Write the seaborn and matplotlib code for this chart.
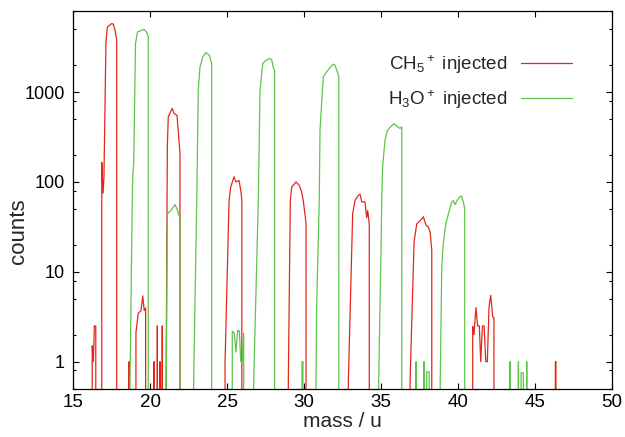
import numpy as np
import pandas as pd
import matplotlib
matplotlib.use("Agg")
import matplotlib.pyplot as plt
from matplotlib.ticker import FixedLocator, FixedFormatter, LogLocator, NullFormatter
import seaborn as sns

# CH5+ injected spectrum: mass (u) and counts
ch5_mass = [15.0, 16.22, 16.23, 16.30, 16.37, 16.46, 16.52, 16.62, 16.85, 16.93, 16.99,
            17.12, 17.21, 17.50, 17.60, 17.71, 17.82, 17.86,
            18.60, 18.62, 18.66,
            19.05, 19.07, 19.22, 19.40, 19.51, 19.61, 19.70, 19.76,
            20.22, 20.24, 20.27, 20.44, 20.46, 20.49, 20.61, 20.63, 20.66, 20.76, 20.78, 20.82,
            21.02, 21.03, 21.11, 21.17, 21.43, 21.54, 21.74, 21.93, 21.96,
            24.82, 24.86, 25.12, 25.23, 25.44, 25.57, 25.77, 25.90, 25.95, 26.06,
            28.95, 28.97, 29.10, 29.19, 29.47, 29.68, 29.84, 29.94, 30.12, 30.17,
            32.85, 32.87, 33.15, 33.30, 33.52, 33.63, 33.74, 33.95, 34.06, 34.13, 34.23, 34.30,
            36.86, 36.88, 37.14, 37.31, 37.53, 37.74, 37.92, 38.07, 38.18, 38.29, 38.33,
            40.82, 40.95, 41.03, 41.16, 41.27, 41.38, 41.47, 41.58, 41.69, 41.80, 41.90,
            42.01, 42.12, 42.25, 42.33, 42.36,
            46.30, 46.32, 46.36, 46.38, 50.0]
ch5_counts = [0, 0, 1.5, 1.0, 2.5, 2.5, 0, 0, 165, 75, 110,
              3500, 5300, 5800, 5700, 4900, 3800, 0,
              0, 1.0, 0,
              0, 2.1, 3.45, 3.7, 5.4, 3.7, 3.95, 0,
              0, 1.0, 0, 0, 2.5, 0, 0, 1.0, 0, 0, 2.5, 0,
              0, 0.6, 245, 530, 660, 580, 550, 210, 0,
              0, 1.0, 62, 88, 114, 100, 104, 77, 62, 0,
              0, 0.6, 62, 88, 100, 92, 77, 62, 35, 0,
              0, 0.6, 44, 62, 71, 73, 60, 60, 40, 48, 34, 0,
              0, 0.6, 21.5, 34, 37, 41, 33, 31.5, 28, 17.4, 0,
              0, 2.47, 2.0, 4.0, 2.5, 2.5, 1.0, 2.5, 2.5, 1.0, 1.0,
              4.05, 5.47, 3.14, 3.1, 0,
              0, 1.0, 1.0, 0, 0]

# H3O+ injected spectrum: mass (u) and counts
h3o_mass = [15.0, 18.66, 18.68, 18.83, 18.86, 18.93, 19.04, 19.17, 19.59, 19.75, 19.87, 19.94,
            21.02, 21.04, 21.11, 21.33, 21.61, 21.76, 21.93, 21.96,
            22.80, 22.82, 23.02, 23.12, 23.23, 23.41, 23.62, 23.84, 23.99, 24.06,
            25.07, 25.33, 25.46, 25.57, 25.68, 25.79, 25.88, 25.98, 26.07, 26.10,
            26.70, 26.72, 27.02, 27.13, 27.31, 27.50, 27.78, 27.89, 28.00, 28.08, 28.20,
            29.84, 29.86, 29.92, 29.94,
            30.75, 30.77, 30.81, 30.98, 31.03, 31.24, 31.46, 31.70, 31.89, 32.00, 32.11, 32.25, 32.28,
            34.82, 34.84, 35.00, 35.04, 35.10, 35.25, 35.40, 35.57, 35.83, 36.00, 36.22, 36.34, 36.40,
            37.25, 37.27, 37.30, 37.77, 37.79, 37.82, 37.94, 37.96, 38.12, 38.14,
            38.82, 38.84, 38.94, 39.04, 39.20, 39.37, 39.59, 39.70, 39.80, 39.95, 40.10, 40.22, 40.34,
            40.43, 40.46,
            43.36, 43.38, 43.41, 43.90, 43.92, 43.95, 44.07, 44.09, 44.24, 44.26,
            44.44, 44.46, 44.49, 50.0]
h3o_counts = [0, 0, 0.5, 62, 113, 170, 3470, 4680, 4980, 4700, 4120, 0,
              0, 0.6, 44, 48, 56, 49, 39, 0,
              0, 0.6, 62, 1050, 1900, 2460, 2760, 2570, 2080, 0,
              0, 2.19, 2.07, 1.28, 2.23, 2.2, 1.0, 1.0, 2.07, 0,
              0, 0.6, 62, 1050, 2080, 2250, 2370, 2290, 1850, 1750, 0,
              0, 1.0, 1.0, 0,
              0, 0.6, 4.1, 62, 376, 1480, 1680, 1900, 2050, 2000, 1760, 1500, 0,
              0, 0.6, 21.5, 62, 150, 292, 370, 405, 446, 420, 395, 410, 0,
              0, 1.0, 0, 0, 1.0, 0, 0, 0.77, 0.77, 0,
              0, 0.6, 11.3, 20.8, 34, 44, 60, 62, 56, 63, 68, 70, 60,
              50, 0,
              0, 1.0, 0, 0, 1.0, 0, 0, 0.75, 0.75, 0,
              0, 1.0, 0, 0]

series_labels = ["CH$_5{}^+$ injected", "H$_3$O$^+$ injected"]
series_colors = ["#e3261b", "#5dc44a"]

xtick_values = [15, 20, 25, 30, 35, 40, 45, 50]
ytick_values = [1, 10, 100, 1000]
ytick_labels = ["1", "10", "100", "1000"]

sns.set_style("ticks")
plt.rcParams["font.family"] = ["Liberation Sans", "DejaVu Sans"]
plt.rcParams["mathtext.fontset"] = "custom"
plt.rcParams["mathtext.rm"] = "Liberation Sans"
plt.rcParams["mathtext.it"] = "Liberation Sans:italic"

fig = plt.figure(figsize=(6.25, 4.37), dpi=100)
ax = fig.add_axes([73.3 / 625, 1 - 388.7 / 437, (612 - 73.3) / 625, (388.7 - 11) / 437])

frames = [
    pd.DataFrame({"mass": ch5_mass, "counts": ch5_counts, "series": series_labels[0]}),
    pd.DataFrame({"mass": h3o_mass, "counts": h3o_counts, "series": series_labels[1]}),
]
for df, col in zip(frames, series_colors):
    sns.lineplot(data=df, x="mass", y="counts", ax=ax, color=col, lw=0.9,
                 estimator=None, sort=False, label=df["series"].iloc[0])

ax.set_yscale("log", nonpositive="clip")
ax.set_xlim(15, 50)
ax.set_ylim(0.5, 8000)

ax.xaxis.set_major_locator(FixedLocator(xtick_values))
ax.yaxis.set_major_locator(FixedLocator(ytick_values))
ax.yaxis.set_major_formatter(FixedFormatter(ytick_labels))
ax.yaxis.set_minor_locator(LogLocator(base=10, subs=(2.0, 5.0, 8.0)))
ax.yaxis.set_minor_formatter(NullFormatter())

ax.tick_params(which="both", direction="in", top=True, right=True, width=0.8,
               colors="black")
ax.tick_params(which="major", length=4.5)
ax.tick_params(which="minor", length=2.5)
ax.tick_params(axis="y", which="major", pad=6, labelsize=13)
ax.tick_params(axis="x", which="major", pad=4, labelsize=13.5)
for s in ax.spines.values():
    s.set_linewidth(0.9)
    s.set_color("black")

ax.set_xlabel("mass / u", fontsize=15)
ax.xaxis.set_label_coords(0.5, (388.7 - 412) / 377.7)
ax.set_ylabel("counts", fontsize=16)
ax.yaxis.set_label_coords((29 - 73.3) / 538.7, (388.7 - 231) / 377.7)

ax.legend(loc="upper right", bbox_to_anchor=(572 / 625, 1 - 53 / 437),
          bbox_transform=fig.transFigure, frameon=False, markerfirst=False,
          fontsize=13.5, handlelength=2.7, handletextpad=0.75, labelspacing=0.65,
          borderpad=0, borderaxespad=0)

fig.savefig("out.png", dpi=100)
